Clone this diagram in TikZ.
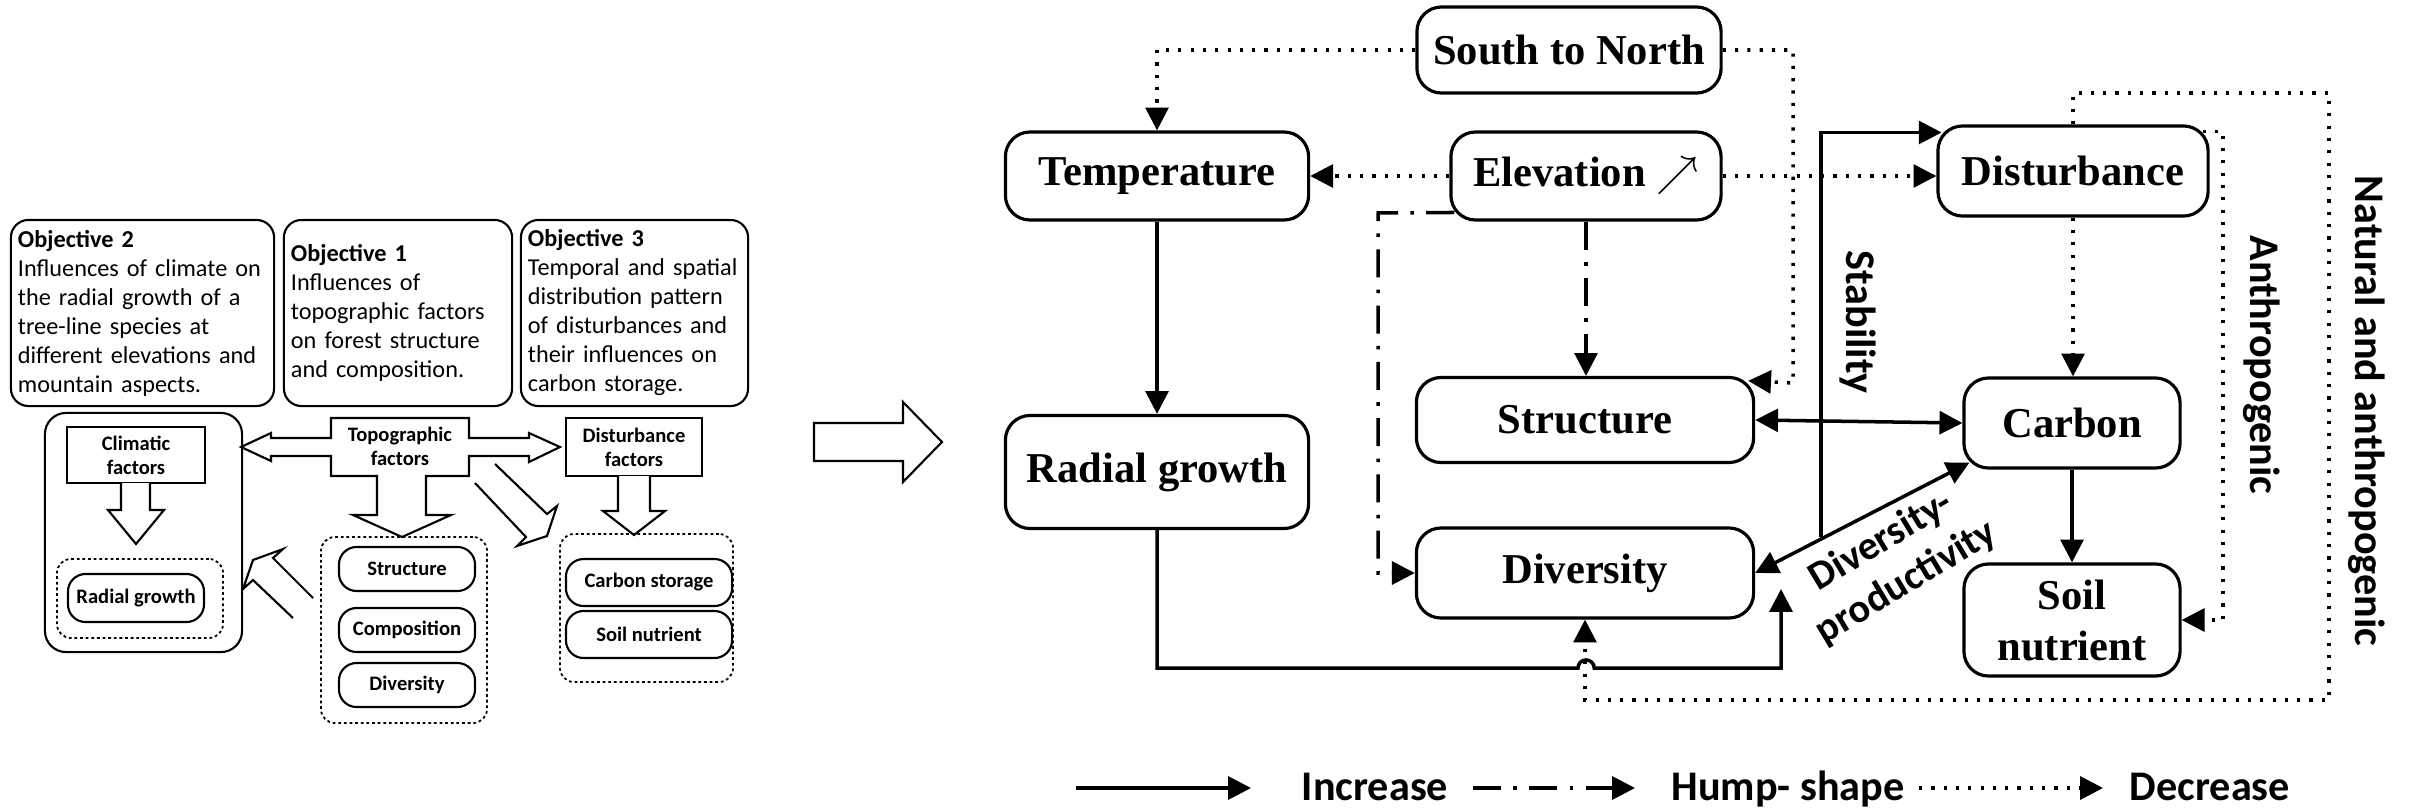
\documentclass[tikz,border=0pt]{standalone}
\usepackage{fontspec}
\setmainfont{Liberation Serif}
\newfontfamily\calib{Carlito}
\usetikzlibrary{arrows.meta}

\newcommand{\rnodetxt}{\fontsize{12.1}{14.5}\selectfont\bfseries}
\newcommand{\objtxt}{\calib\fontsize{6.9}{8.25}\selectfont}
\newcommand{\lbltxt}{\calib\bfseries\fontsize{5.85}{6.8}\selectfont}
\newcommand{\sidetxt}{\calib\bfseries\fontsize{12}{14}\selectfont}
\newcommand{\dptxt}{\calib\bfseries\fontsize{11.5}{13.7}\selectfont}

\begin{document}
\begin{tikzpicture}
  [x=0.01cm,y=-0.01cm,line join=miter,
   objbox/.style={draw,line width=0.6pt,rounded corners=5pt,align=left,font=\objtxt,
     inner xsep=2pt,inner ysep=0pt,minimum height=1.86cm},
   lbox/.style={draw,line width=0.6pt,rounded corners=5pt,inner sep=0pt,font=\lbltxt,minimum width=1.36cm},
   fbox/.style={draw,line width=0.6pt,inner sep=0pt,align=center,font=\lbltxt},
   dotbox/.style={draw,line width=0.5pt,rounded corners=4pt,dash pattern=on 0.8pt off 0.8pt,inner sep=0pt},
   blk/.style={draw,line width=0.6pt,fill=white},
   rbox/.style={draw,line width=0.9pt,rounded corners=7pt,inner sep=0pt,align=center,font=\rnodetxt},
   incr/.style={line width=1pt,-{Triangle[length=6.5pt,width=6.5pt]}},
   both/.style={incr,{Triangle[length=6.5pt,width=6.5pt]}-{Triangle[length=6.5pt,width=6.5pt]}},
   hump/.style={incr,dash pattern=on 8pt off 3.5pt on 1pt off 3.5pt},
   decr/.style={incr,dash pattern=on 0.9pt off 2.6pt},
   side/.style={font=\sidetxt,rotate=-90,inner sep=0pt}]

  \useasboundingbox (0,0) rectangle (2409,809);

  % objectives
  \node[objbox,minimum width=2.63cm,text width=2.49cm] (obj2) at (142.5,313)
    {\textbf{Objective 2}\\Influences of climate on\\the radial growth of a\\tree-line species at\\different elevations and\\mountain aspects.};
  \node[objbox,minimum width=2.28cm,text width=2.14cm] (obj1) at (398,313)
    {\textbf{Objective 1}\\Influences of\\topographic factors\\on forest structure\\and composition.};
  \node[objbox,minimum width=2.27cm,text width=2.13cm] (obj3) at (634.5,313)
    {\textbf{Objective 3}\\Temporal and spatial\\distribution pattern\\of disturbances and\\their influences on\\carbon storage.};

  % climatic part
  \node[lbox,minimum width=1.97cm,minimum height=2.39cm,rounded corners=6pt] (climc) at (143.5,532.5) {};
  \node[fbox,minimum width=1.38cm,minimum height=0.56cm] (climf) at (136,455) {Climatic\\factors};
  \draw[blk] (121,483) -- (121,510) -- (108,510) -- (136,544) -- (164,510) -- (150,510) -- (150,483);
  \node[dotbox,minimum width=1.66cm,minimum height=0.79cm] (radc) at (140,598.5) {};
  \node[lbox,minimum height=0.48cm] (radl) at (136,598) {Radial growth};

  % topographic part
  \draw[blk] (331,418) -- (469,418) -- (469,438) -- (529,438) -- (529,433) -- (560,447)
    -- (529,462) -- (529,456) -- (469,456) -- (469,476) -- (426,476) -- (426,515)
    -- (451,515) -- (402,537) -- (353,515) -- (377,515) -- (377,476) -- (331,476)
    -- (331,456) -- (271,456) -- (271,461) -- (241,447) -- (271,433) -- (271,438)
    -- (331,438) -- cycle;
  \node[font=\lbltxt,align=center,inner sep=0pt] (topf) at (400,446) {Topographic\\factors};
  \node[dotbox,minimum width=1.66cm,minimum height=1.86cm] (topc) at (404,630) {};
  \node[lbox,minimum height=0.44cm] (lstr) at (407,569) {Structure};
  \node[lbox,minimum height=0.44cm] (lcom) at (407,630) {Composition};
  \node[lbox,minimum height=0.44cm] (ldiv) at (407,685) {Diversity};
  \draw[blk] (313,598) -- (273,558) -- (283,549) -- (253,560) -- (243,589) -- (253,580) -- (293,618);
  \draw[blk] (495,464) -- (547,514) -- (557,506) -- (547,536) -- (517,546) -- (526,537) -- (475,483);

  % disturbance part
  \node[fbox,minimum width=1.36cm,minimum height=0.58cm] (distf) at (634,447) {Disturbance\\factors};
  \draw[blk] (618,476) -- (618,511) -- (603,511) -- (634,535) -- (665,511) -- (650,511) -- (650,476);
  \node[dotbox,minimum width=1.73cm,minimum height=1.48cm] (distc) at (646.5,608) {};
  \node[lbox,minimum width=1.66cm,minimum height=0.47cm] (lcarb) at (649,582.5) {Carbon storage};
  \node[lbox,minimum width=1.66cm,minimum height=0.47cm] (lsoil) at (649,634.5) {Soil nutrient};

  % big arrow
  \draw[blk] (814,423) -- (903,423) -- (903,402) -- (942,442) -- (903,482) -- (903,461) -- (814,461) -- cycle;

  % right panel
  \node[rbox,minimum width=3.04cm,minimum height=0.86cm] (sn) at (1569,50) {South to North};
  \node[rbox,minimum width=3.03cm,minimum height=0.88cm] (temp) at (1157,176) {Temperature};
  \node[rbox,minimum width=2.70cm,minimum height=0.88cm] (elev) at (1586,176) {Elevation \ensuremath{\nearrow}};
  \node[rbox,minimum width=2.70cm,minimum height=0.90cm] (dist) at (2073,171) {Disturbance};
  \node[rbox,minimum width=3.03cm,minimum height=1.13cm] (radial) at (1157,472) {Radial growth};
  \node[rbox,minimum width=3.37cm,minimum height=0.85cm] (struct) at (1585,420) {Structure};
  \node[rbox,minimum width=3.37cm,minimum height=0.90cm] (divers) at (1585,573) {Diversity};
  \node[rbox,minimum width=2.16cm,minimum height=0.90cm] (carbon) at (2072,423) {Carbon};
  \node[rbox,minimum width=2.16cm,minimum height=1.12cm] (soil) at (2072,620) {Soil\\nutrient};

  \coordinate (snturn) at (1793,383);
  \coordinate (sntip) at ([xshift=-2pt,yshift=-1.4pt]struct.north east);
  \coordinate (elevsw) at ([xshift=1.4pt,yshift=2.6pt]elev.south west);
  \coordinate (humpturn) at (1378,213);
  \coordinate (hopin) at (1578,668);
  \coordinate (radcorner) at (1781,668);
  \coordinate (radtip) at (1781,589);
  \coordinate (nattop) at (2329,93);
  \coordinate (natbot) at (2329,700);
  \coordinate (stabfoot) at (1821,537);
  \coordinate (stabtip) at ([xshift=1.5pt,yshift=-2.3pt]dist.north west);
  \coordinate (carbsw) at ([xshift=2pt,yshift=2pt]carbon.south west);
  \coordinate (distne) at ([xshift=-2pt,yshift=-2pt]dist.north east);
  \coordinate (anthturn) at (2223,620);

  \draw[decr] (sn.west) -| (temp.north);
  \draw[decr] (sn.east) -| (snturn) -- (sntip);
  \draw[decr] (elev.west) -- (temp.east);
  \draw[decr] (elev.east) -- (elev.east -| dist.west);
  \draw[hump] (elev.south) -- (elev.south |- struct.north);
  \draw[hump] (elevsw) -- (humpturn) |- (divers.west);
  \draw[incr] (temp) -- (radial);
  \draw[incr] (radial.south) |- (hopin) arc[start angle=180,end angle=0,radius=2.3pt] -- (radcorner) -- (radtip);
  \draw[decr] (dist.north) |- (nattop) -- (natbot) -| (divers.south);
  \draw[decr] (dist.south) -- (dist.south |- carbon.north);
  \draw[incr] (carbon) -- (soil);
  \draw[both] (struct.east) -- (carbon.west);
  \draw[both] (divers.east) -- (carbsw);
  \draw[incr] (stabfoot) |- (stabtip);
  \draw[decr] (distne) -| (anthturn) -- (soil.east);

  \node[side] (stab) at (1858,322) {Stability};
  \node[side] (anth) at (2262,365) {Anthropogenic};
  \node[side] (natan) at (2367,411) {Natural and anthropogenic};
  \node[font=\dptxt,rotate=31,align=center,inner sep=0pt] (dplabel) at (1894,562) {Diversity-\\productivity};

  % legend
  \node[font=\sidetxt,anchor=base] (lgincr) at (1375,800) {Increase};
  \node[font=\sidetxt,anchor=base] (lghump) at (1788,800) {Hump- shape};
  \node[font=\sidetxt,anchor=base] (lgdecr) at (2210,800) {Decrease};
  \foreach \sty/\xa/\xb [count=\i] in {incr/1076/1251,hump/1473/1635,decr/1919/2103}
  {
    \coordinate (lga\i) at (\xa,788);
    \coordinate (lgb\i) at (\xb,788);
    \draw[\sty] (lga\i) -- (lgb\i);
  }

\end{tikzpicture}
\end{document}
